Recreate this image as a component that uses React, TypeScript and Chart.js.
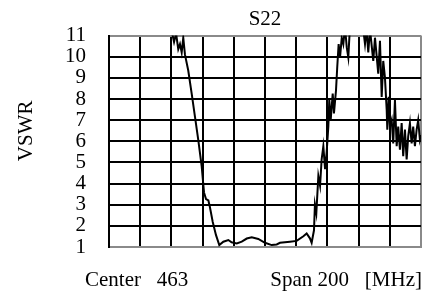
import React, { useEffect, useRef } from "react";
import { Chart, registerables } from "chart.js";

Chart.register(...registerables);

const chartTitle = "S22";
const yAxisTitle = "VSWR";
const centerMHz = 463;
const spanMHz = 200;
const xDivisions = 10;
const yMin = 1;
const yMax = 11;

const freqMHz = [
  398.9, 403.2, 404.7, 406.0, 407.4, 408.5, 409.6, 410.6, 411.7, 413.8,
  416.0, 418.1, 420.2, 422.4, 423.9, 425.2, 426.7, 427.7, 429.5, 431.6,
  433.7, 436.3, 439.5, 441.6, 444.9, 448.1, 451.3, 454.5, 458.7, 463.0,
  467.3, 470.5, 472.6, 479.0, 483.3, 487.6, 489.7, 491.8, 492.9, 494.4,
  495.0, 495.9, 497.2, 498.3, 499.3, 500.4, 501.5, 502.5, 503.6, 504.2,
  505.1, 506.4, 507.2, 508.5, 509.3, 510.2, 511.1, 512.2, 513.2, 514.3,
  515.4, 516.4, 517.5, 521.3, 525.2, 527.1, 528.1, 529.2, 530.3, 532.4,
  533.5, 535.6, 536.7, 537.8, 538.8, 539.9, 541.0, 541.4, 542.3, 543.1,
  544.2, 545.2, 546.3, 547.4, 548.4, 549.5, 550.6, 551.6, 552.7, 553.8,
  554.8, 555.9, 557.0, 558.0, 559.1, 560.2, 561.2, 562.3, 563.0,
];

const vswr = [
  12.0, 11.2, 10.7, 11.1, 10.36, 10.6, 10.2, 10.9, 10.1, 9.35,
  8.26, 7.17, 6.08, 4.83, 3.58, 3.27, 3.2, 2.88, 2.18, 1.56,
  1.09, 1.25, 1.33, 1.22, 1.17, 1.25, 1.4, 1.46, 1.38, 1.2,
  1.09, 1.12, 1.2, 1.25, 1.29, 1.51, 1.64, 1.41, 1.2, 1.79,
  3.0, 2.6, 4.36, 3.9, 5.14, 5.77, 4.68, 5.45, 6.7, 7.95,
  7.0, 8.26, 7.32, 8.4, 9.5, 10.6, 9.97, 10.9, 10.6, 11.4,
  10.44, 9.97, 11.5, 12.0, 11.8, 10.6, 11.3, 10.2, 11.3, 9.8,
  10.9, 9.2, 10.75, 8.1, 9.8, 9.0, 7.5, 6.55, 8.1, 6.7,
  7.0, 5.9, 7.95, 5.77, 6.7, 5.6, 6.86, 5.3, 6.55, 5.14,
  6.23, 6.86, 5.9, 6.7, 5.77, 6.55, 7.0, 6.08, 6.3,
];

const bottomLeftText = "Center   " + centerMHz;
const bottomRightText = "Span " + spanMHz + "   [MHz]";

const FONT = "'Liberation Serif', 'Times New Roman', serif";
const GRID = "#000000";
const EDGE = "#8a8a8a";

const bottomTextPlugin = {
  id: "bottomText",
  afterDraw(chart: any) {
    const { ctx, chartArea } = chart;
    ctx.save();
    ctx.font = "21px " + FONT;
    ctx.fillStyle = "#000";
    ctx.textBaseline = "alphabetic";
    const y = chartArea.bottom + 38.5;
    ctx.textAlign = "left";
    ctx.fillText(bottomLeftText, chartArea.left - 24, y);
    ctx.textAlign = "right";
    ctx.fillText(bottomRightText, chartArea.right + 1, y);
    ctx.restore();
  },
};

export default function App() {
  const ref = useRef<HTMLCanvasElement | null>(null);

  useEffect(() => {
    if (!ref.current) return;
    const xStart = centerMHz - spanMHz / 2;
    const xEnd = centerMHz + spanMHz / 2;
    const gridFreqs: number[] = [];
    for (let i = 0; i <= xDivisions; i++) gridFreqs.push(xStart + (spanMHz / xDivisions) * i);

    const chart = new Chart(ref.current, {
      type: "line",
      data: {
        datasets: [
          {
            label: chartTitle,
            data: freqMHz.map((f, i) => ({ x: f, y: vswr[i] })),
            borderColor: "#000000",
            borderWidth: 2,
            pointRadius: 0,
            tension: 0,
            fill: false,
            clip: 0,
          },
        ],
      },
      plugins: [bottomTextPlugin],
      options: {
        animation: false,
        responsive: true,
        maintainAspectRatio: false,
        layout: { padding: { left: 0, right: 13, top: 0, bottom: 0 } },
        plugins: {
          legend: { display: false },
          tooltip: { enabled: false },
          title: { display: false },
        },
        scales: {
          x: {
            type: "linear",
            position: "bottom",
            min: xStart,
            max: xEnd,
            afterBuildTicks: (axis: any) => {
              axis.ticks = gridFreqs.map((v) => ({ value: v }));
            },
            afterFit: (scale: any) => {
              scale.height = 48;
            },
            ticks: { display: false },
            grid: {
              drawTicks: false,
              lineWidth: 2,
              color: (ctx: any) =>
                ctx.tick && ctx.tick.value === xEnd ? EDGE : GRID,
            },
            border: { display: true, color: EDGE, width: 2 },
          },
          x2: {
            type: "linear",
            position: "top",
            display: true,
            afterFit: (scale: any) => {
              scale.height = 33;
            },
            ticks: { display: false },
            grid: { display: false, drawTicks: false },
            border: { display: false },
            title: {
              display: true,
              text: chartTitle,
              color: "#000",
              font: { family: FONT, size: 21 },
              padding: { top: 4, bottom: 0 },
            },
          },
          y: {
            type: "linear",
            min: yMin,
            max: yMax,
            afterFit: (scale: any) => {
              scale.width = 109;
            },
            ticks: {
              stepSize: 1,
              autoSkip: false,
              color: "#000",
              padding: 23,
              font: { family: FONT, size: 21 },
            },
            grid: {
              drawTicks: false,
              lineWidth: 2,
              color: (ctx: any) =>
                ctx.tick && (ctx.tick.value === yMax || ctx.tick.value === yMin)
                  ? EDGE
                  : GRID,
            },
            border: { display: true, color: "#000", width: 2 },
            title: {
              display: true,
              text: "    " + yAxisTitle,
              color: "#000",
              font: { family: FONT, size: 21 },
              padding: { top: 14, bottom: 0 },
            },
          },
        },
      },
    } as any);
    return () => chart.destroy();
  }, []);

  return (
    <div style={{ position: "fixed", left: 0, top: 0, width: 434, height: 295 }}>
      <canvas ref={ref} />
    </div>
  );
}
